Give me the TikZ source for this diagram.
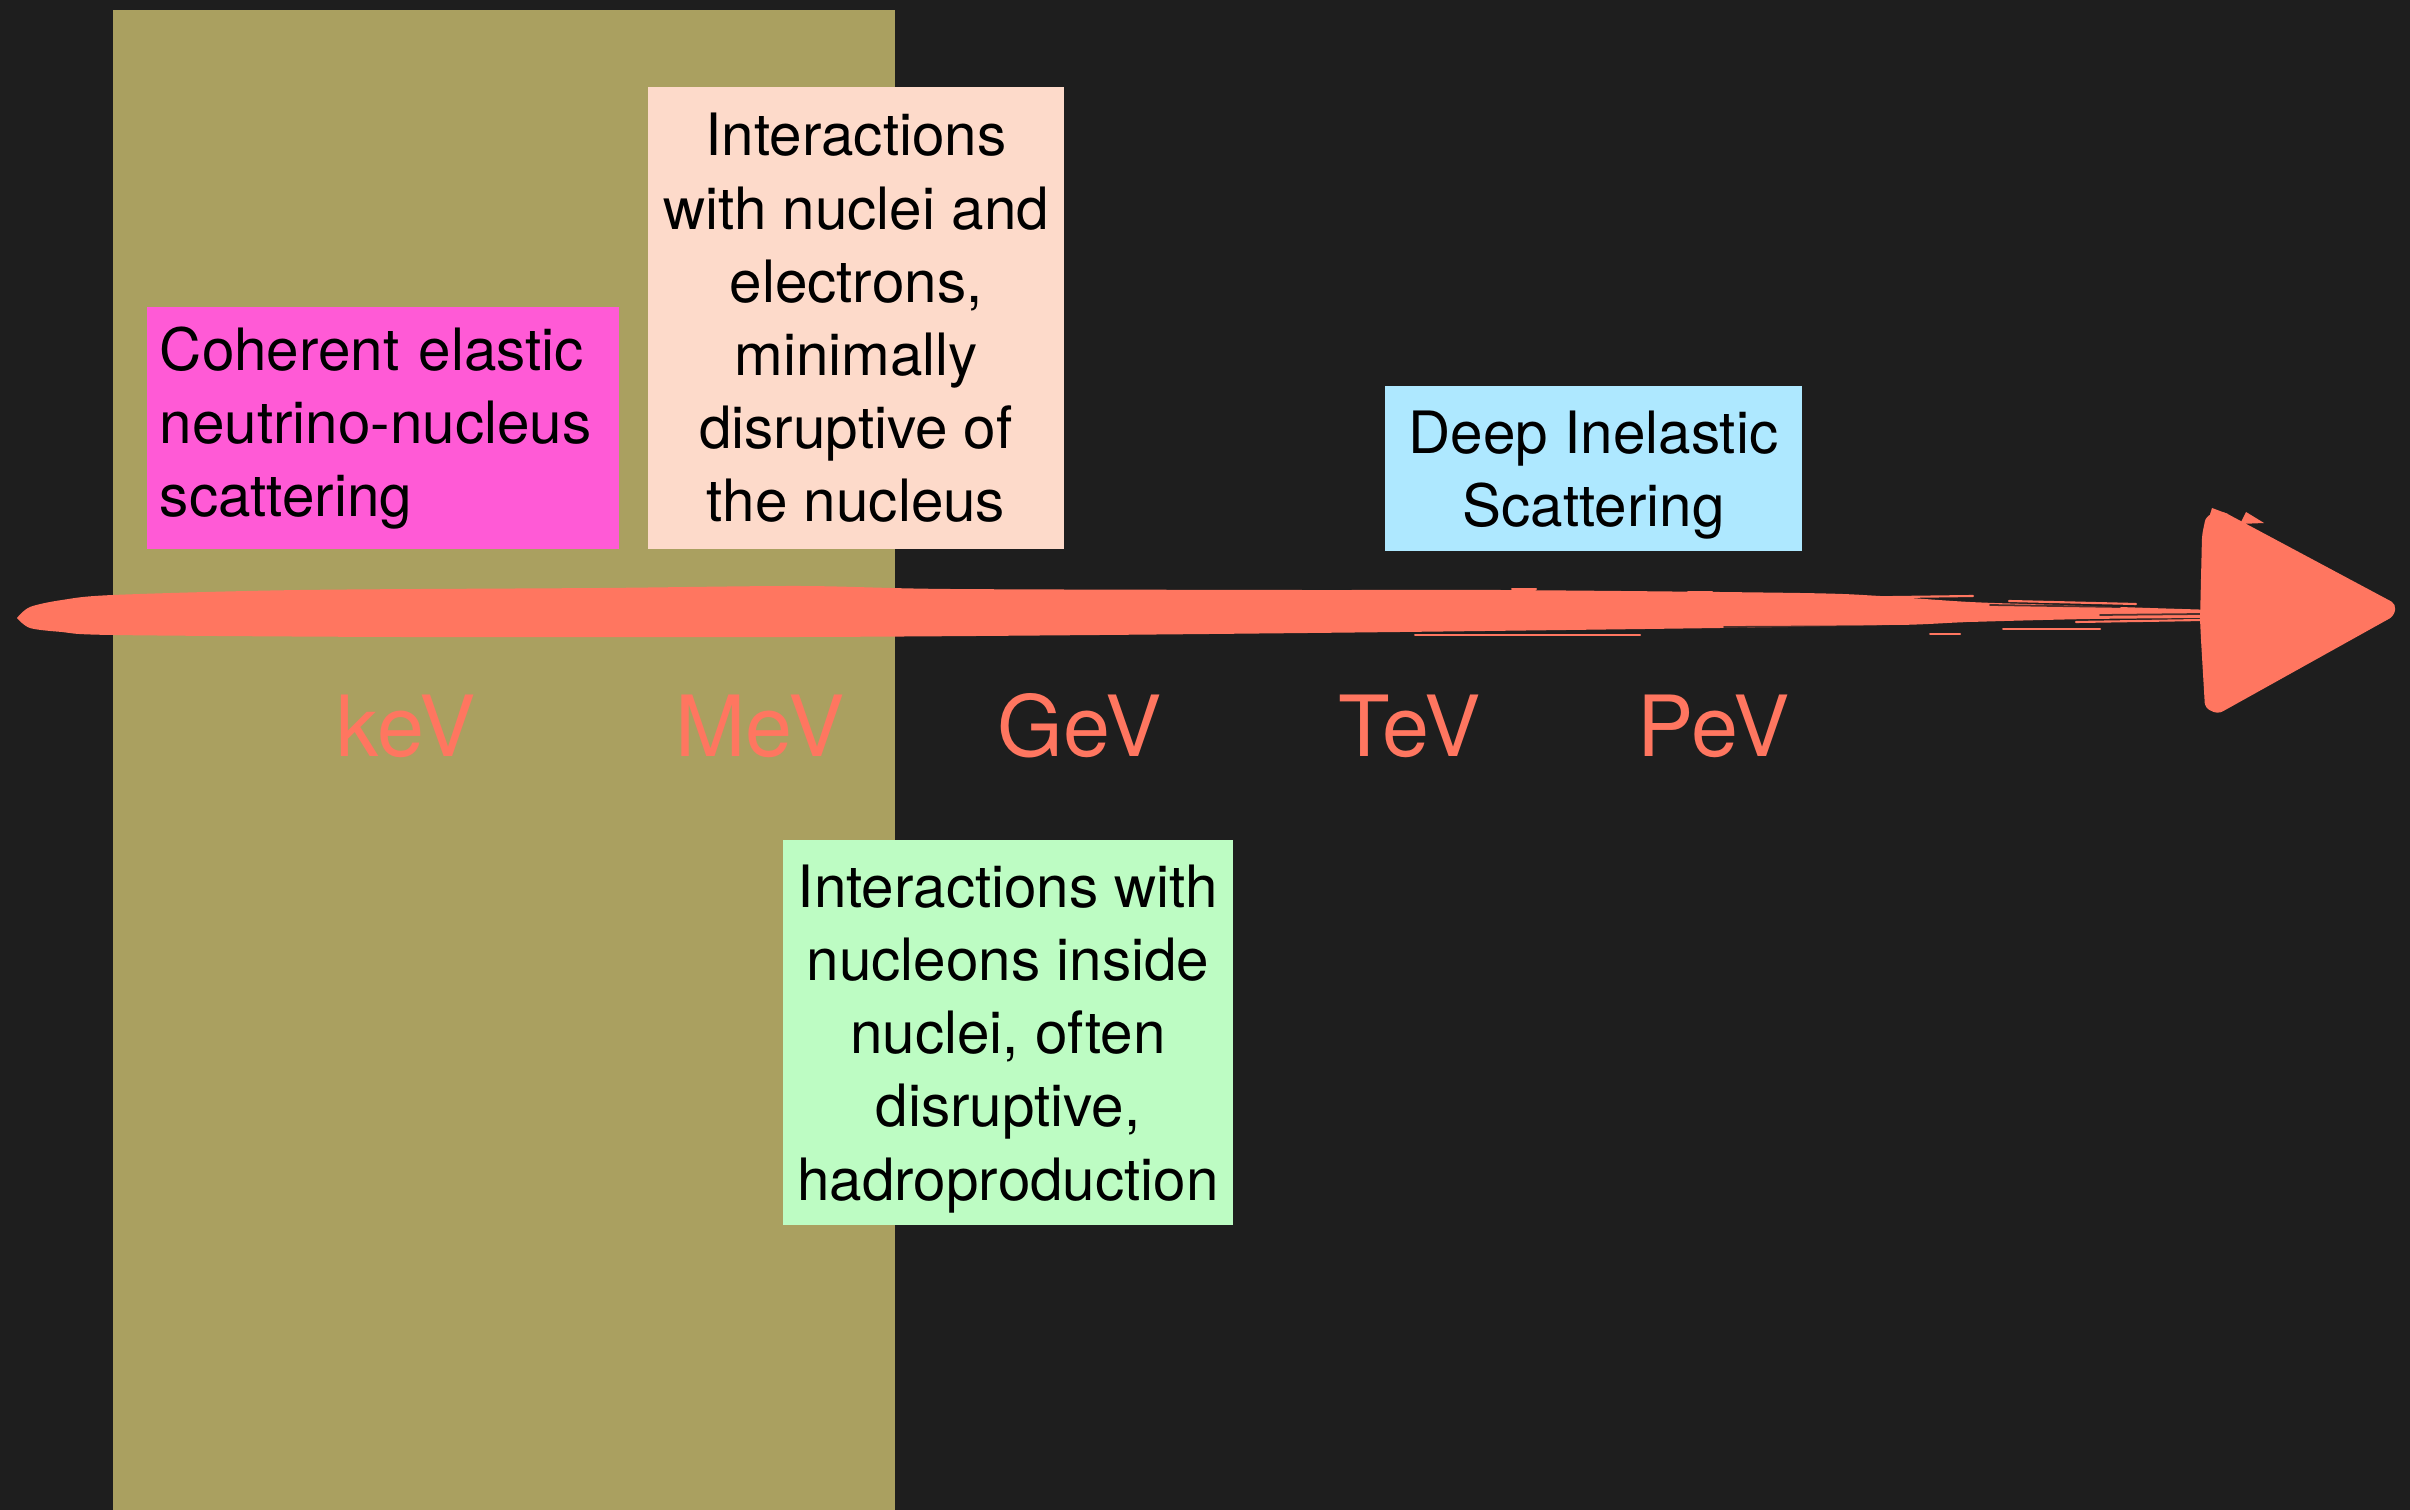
\documentclass[tikz,border=0pt]{standalone}
\usepackage{fontspec}
\setmainfont{TeX Gyre Heros}
\definecolor{bgdark}{HTML}{1E1E1E}
\definecolor{bandolive}{HTML}{AAA060}
\definecolor{coral}{HTML}{FF7660}
\definecolor{boxpink}{HTML}{FF5AD6}
\definecolor{boxpeach}{HTML}{FDDACA}
\definecolor{boxblue}{HTML}{AEE8FF}
\definecolor{boxgreen}{HTML}{BDFCC3}
\begin{document}
\begin{tikzpicture}[x=0.01cm,y=-0.01cm,
  infobox/.style={inner sep=0pt, text=black, align=center,
    font=\fontsize{16.6pt}{20.8pt}\selectfont},
  flatbase/.style={text depth=0pt},
  energy/.style={anchor=base, text=coral, inner sep=0pt,
    font=\fontsize{24pt}{28pt}\selectfont},
  streak/.style={draw=coral, line width=0.6pt, line cap=round},
  gap/.style={draw=bgdark, line width=0.5pt, line cap=round, opacity=0.8}]

% canvas and the low-energy band
\fill[bgdark] (0,0) rectangle (2410,1510);
\useasboundingbox (0,0) rectangle (2410,1510);
\fill[bandolive] (113,10) rectangle (895,1510);

% brush-stroke energy axis
\fill[coral] plot[smooth, tension=0.5] coordinates {(17,618) (30,607) (62,600) (113,595) (300,590)
    (600,588) (800,586) (950,589) (1300,590) (1500,590) (1800,593) (1880,596)
    (1970,602) (2060,605) (2150,608) (2215,610)}
  -- plot[smooth, tension=0.5] coordinates {(2215,618) (2090,619) (1970,622) (1900,625)
    (1720,628) (1400,632) (1100,635) (800,637) (400,637) (113,635) (62,632)
    (30,628) (17,618)} -- cycle;

% ragged bristle marks towards the head
\draw[streak] (1512,589) -- (1536,589);
\draw[streak] (1555,592) -- (1603,592);
\draw[streak] (1688,592) -- (1712,592);
\draw[streak] (1821,598) -- (1973,596);
\draw[streak] (2009,601) -- (2136,604);
\draw[streak] (2088,610) -- (2203,612);
\draw[streak] (1415,635) -- (1640,635);
\draw[streak] (1930,634) -- (1960,634);
\draw[streak] (2003,629) -- (2100,629);
\draw[streak] (2076,622) -- (2203,620);
\draw[gap] (1724,627) -- (1906,626);
\draw[gap] (1967,623) -- (2058,623);
\draw[gap] (1990,605) -- (2120,607);
\draw[gap] (2100,615) -- (2200,614);

% arrow head
\fill[coral, rounded corners=1.5pt] (2200,620) -- (2202,535) -- (2206,516) -- (2222,511)
  -- (2396,604) -- (2394,616) -- (2218,714) -- (2205,708) -- (2201,640) -- cycle;
\fill[coral] (2207,524) -- (2212,508) -- (2228,514) -- cycle;
\fill[coral] (2240,524) -- (2246,512) -- (2264,523) -- cycle;

% process boxes
\node[infobox, fill=boxpink, align=left, text width=4.46cm, inner xsep=0.13cm,
  minimum height=2.42cm] (cevns) at (383,428)
  {Coherent elastic\\neutrino-nucleus\\scattering};
\node[infobox, fill=boxpeach, minimum width=4.16cm, minimum height=4.62cm] (nuclear) at (856,318)
  {Interactions\\with nuclei and\\electrons,\\minimally\\disruptive of\\the nucleus};
\node[infobox, flatbase, fill=boxblue, minimum width=4.17cm, minimum height=1.65cm] (dis) at (1593.5,468.5)
  {Deep Inelastic\\Scattering};
\node[infobox, flatbase, fill=boxgreen, minimum width=4.50cm, minimum height=3.85cm] (nucleon) at (1008,1032.5)
  {Interactions with\\nucleons inside\\nuclei, often\\disruptive,\\hadroproduction};

% energy scale labels
\node[energy] (kev) at (406,756) {keV};
\node[energy] (mev) at (760,756) {MeV};
\node[energy] (gev) at (1080,756) {GeV};
\node[energy] (tev) at (1410,756) {TeV};
\node[energy] (pev) at (1714,756) {PeV};
\end{tikzpicture}
\end{document}
